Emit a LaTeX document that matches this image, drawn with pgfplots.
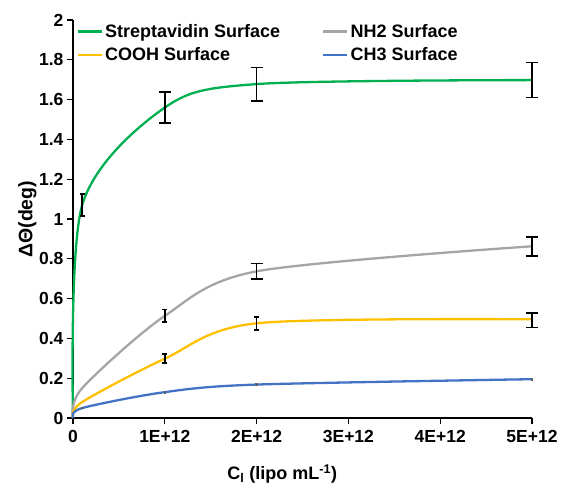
\documentclass[border=0pt]{standalone}
\usepackage{pgfplots}
\pgfplotsset{compat=1.18}
\usepackage{fontspec}
\setmainfont{Liberation Sans}
\definecolor{cgreen}{HTML}{00B050}
\definecolor{cgrey}{HTML}{A5A5A5}
\definecolor{cyellow}{HTML}{FFC000}
\definecolor{cblue}{HTML}{4472C4}
\newcommand{\tickfont}{\bfseries\fontsize{17.5}{19}\selectfont}
\newcommand{\legfont}{\bfseries\fontsize{18}{20}\selectfont}
\begin{document}
\begin{tikzpicture}
\begin{axis}[
  at={(0,0)}, anchor=south west,
  scale only axis, width=459pt, height=398pt,
  xmin=0, xmax=5e12, ymin=0, ymax=2,
  clip=false,
  axis lines*=left,
  axis line style={black, line width=1.2pt},
  scaled x ticks=false,
  xtick={0,1e12,2e12,3e12,4e12,5e12},
  xticklabels={0,1E+12,2E+12,3E+12,4E+12,5E+12},
  ytick={0,0.2,0.4,0.6,0.8,1,1.2,1.4,1.6,1.8,2},
  yticklabel style={/pgf/number format/assume math mode=true},
  xticklabel style={yshift=-3pt},
  tick label style={font=\tickfont},
  tick align=outside,
  major tick length=6pt,
  tick style={black, line width=1.2pt},
  ylabel={ΔΘ(deg)},
  xlabel={C\textsubscript{l} (lipo mL\textsuperscript{-1})},
  xlabel style={font=\bfseries\fontsize{18}{20}\selectfont, at={(axis description cs:0.456,0)}, anchor=north, yshift=-43pt},
  ylabel style={font=\bfseries\fontsize{19.5}{21}\selectfont, at={(axis description cs:0,0.5)}, anchor=south, yshift=33pt},
  legend columns=2,
  legend style={draw=none, fill=none, font=\legfont,
    at={(axis description cs:0.008,0.995)}, anchor=north west,
    /tikz/every even column/.append style={column sep=40pt},
    row sep=5pt, inner sep=0pt},
  legend cell align=left,
  legend image code/.code={\draw[#1, line width=2.3pt] (0pt,0pt) -- (24pt,0pt);},
]
\addplot[cgreen, line width=2.3pt, smooth] coordinates {(0,0) (1e11,1.07) (1e12,1.56) (2e12,1.678) (5e12,1.698)};
\addlegendentry{Streptavidin Surface}
\addplot[cgrey, line width=2.3pt, smooth] coordinates {(0,0) (1e11,0.15) (1e12,0.513) (2e12,0.737) (5e12,0.863)};
\addlegendentry{NH2 Surface}
\addplot[cyellow, line width=2.3pt, smooth] coordinates {(0,0) (1e11,0.08) (1e12,0.298) (2e12,0.476) (5e12,0.496)};
\addlegendentry{COOH Surface}
\addplot[cblue, line width=2.3pt, smooth] coordinates {(0,0) (1e11,0.05) (1e12,0.13) (2e12,0.168) (5e12,0.195)};
\addlegendentry{CH3 Surface}
% error bars, wide caps
\addplot[forget plot, only marks, mark=*, mark size=0.01pt, mark options={draw=none, fill=none},
  error bars/.cd, y dir=both, y explicit,
  error bar style={black, line width=1.6pt},
  error mark options={draw=black, line width=1.6pt, mark size=6pt, rotate=90}]
  coordinates {(1e12,1.56) +- (0,0.079) (2e12,1.678) +- (0,0.084) (5e12,1.698) +- (0,0.088)
  (2e12,0.737) +- (0,0.04) (5e12,0.863) +- (0,0.048) (5e12,0.492) +- (0,0.037)};
% error bars, narrow caps
\addplot[forget plot, only marks, mark=*, mark size=0.01pt, mark options={draw=none, fill=none},
  error bars/.cd, y dir=both, y explicit,
  error bar style={black, line width=1.6pt},
  error mark options={draw=black, line width=1.6pt, mark size=2.5pt, rotate=90}]
  coordinates {(1e11,1.07) +- (0,0.055) (1e12,0.513) +- (0,0.032) (1e12,0.298) +- (0,0.023)
  (2e12,0.476) +- (0,0.033)};
% error bars, tiny
\addplot[forget plot, only marks, mark=*, mark size=0.01pt, mark options={draw=none, fill=none},
  error bars/.cd, y dir=both, y explicit,
  error bar style={black!60, line width=0.8pt},
  error mark options={draw=black!60, line width=0.8pt, mark size=1.2pt, rotate=90}]
  coordinates {(1e11,0.05) +- (0,0.004) (1e12,0.13) +- (0,0.004) (2e12,0.168) +- (0,0.004) (5e12,0.195) +- (0,0.004)};
\end{axis}
\pgfresetboundingbox
\path[use as bounding box] (-73pt,-68pt) rectangle (488pt,418pt);
\end{tikzpicture}
\end{document}
